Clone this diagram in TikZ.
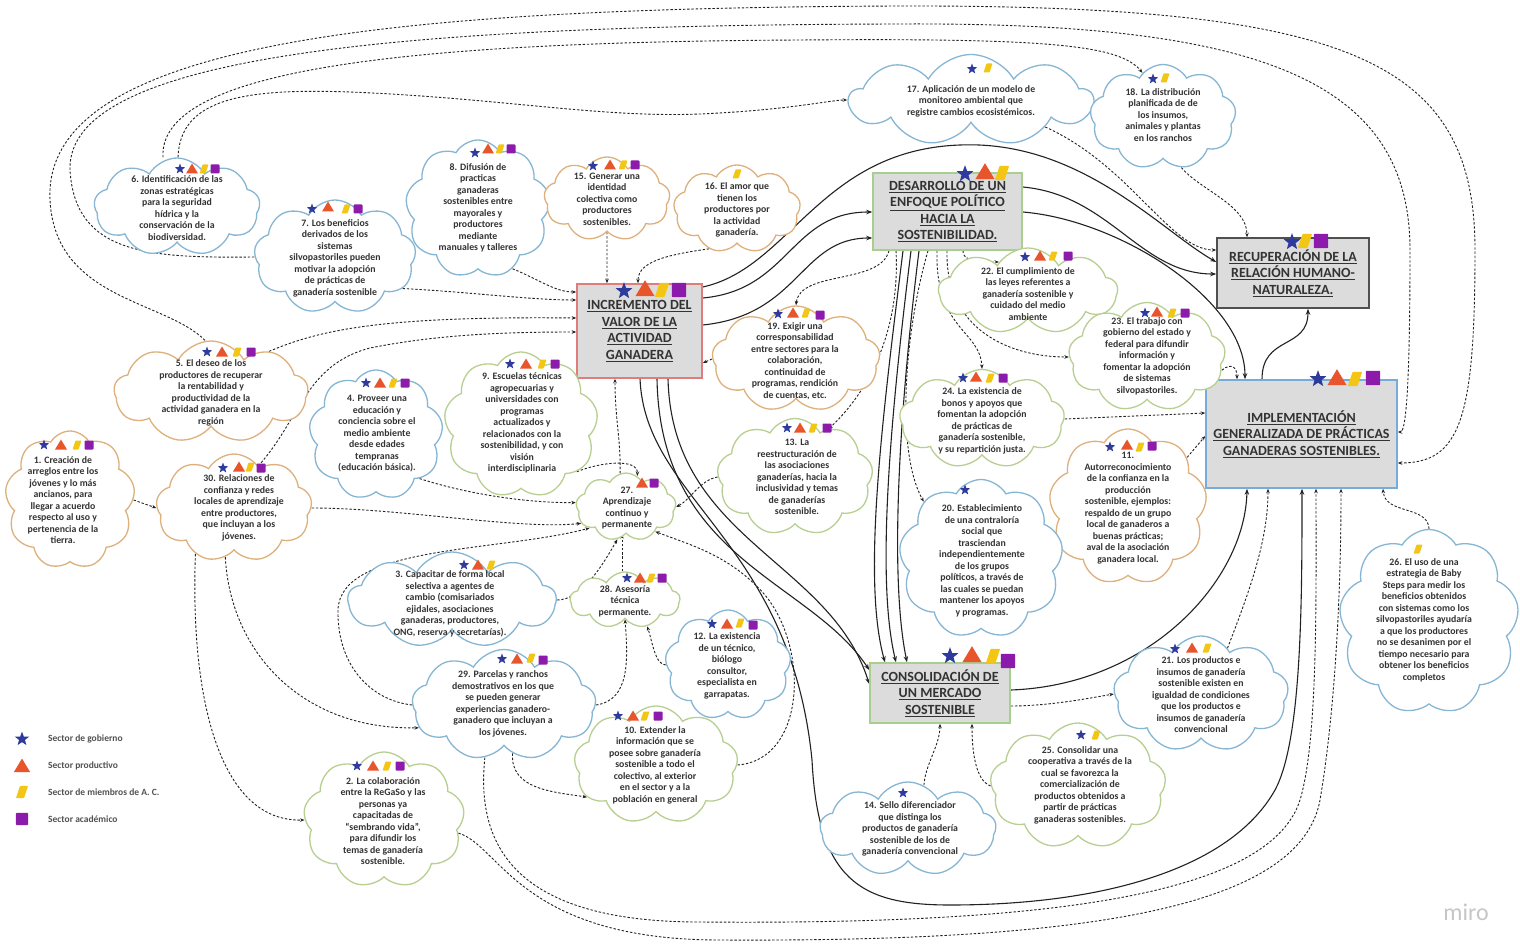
\documentclass[tikz,border=0pt]{standalone}
\usepackage{fontspec}
\setmainfont{Carlito}
\usetikzlibrary{shapes.symbols,arrows.meta,backgrounds}
\definecolor{govblue}{HTML}{2F3B9C}
\definecolor{prodred}{HTML}{E8542C}
\definecolor{acyellow}{HTML}{F3C614}
\definecolor{acadpurple}{HTML}{8C1AAA}
\definecolor{nubeazul}{HTML}{86B6D3}
\definecolor{nubeverde}{HTML}{B7CF90}
\definecolor{nubenaranja}{HTML}{DDB07C}
\definecolor{cajagris}{HTML}{DCDCDC}
\definecolor{textogris}{HTML}{333333}
\definecolor{rojocaja}{HTML}{E27C7C}
\definecolor{verdecaja}{HTML}{A9CF8E}
\definecolor{azulcaja}{HTML}{74ACDC}
\definecolor{oscurocaja}{HTML}{505050}
\definecolor{lineagris}{HTML}{222222}
\newcommand{\subr}[1]{\underline{#1}}
\tikzset{
	gov/.pic={\fill[govblue] (-90:5.5) \foreach \k in {1,...,9}{ -- ({-90+36*\k}:{mod(\k,2)==0 ? 5.5 : 2.3}) } -- cycle;},
	prod/.pic={\fill[prodred] (0,-5.5) -- (6,4.5) -- (-6,4.5) -- cycle;},
	ac/.pic={\fill[acyellow, rounded corners=0.8pt] (-1.5,-4.5) -- (4.5,-4.5) -- (1.5,4.5) -- (-4.5,4.5) -- cycle;},
	acad/.pic={\fill[acadpurple, rounded corners=0.8pt] (-4.5,-4.5) rectangle (4.5,4.5);}
}
\begin{document}
\begin{tikzpicture}[x=1pt, y=-1pt,
	nube/.style={cloud, cloud puffs=9, cloud puff arc=120, cloud ignores aspect, draw=#1, line width=1.3pt, fill=white, inner sep=0pt},
	txt/.style={align=center, font=\bfseries\fontsize{9.8}{11.5}\selectfont, text=textogris, inner sep=0pt},
	caja/.style={draw=#1, line width=1.5pt, fill=cajagris, inner sep=0pt, align=center, font=\bfseries\fontsize{14}{16.5}\selectfont, text=textogris},
	flecha/.style={draw=lineagris, line width=1.1pt, -{Stealth[length=6pt,width=4.5pt]}},
	punteada/.style={draw=lineagris, line width=0.9pt, dash pattern=on 2.4pt off 1.8pt, -{Stealth[length=4.5pt,width=3.5pt]}},
	leyenda/.style={anchor=west, font=\bfseries\fontsize{9.5}{11}\selectfont, text=textogris!85, inner sep=0pt}]
	\useasboundingbox (0,0) rectangle (1520,944);

	\node[caja=rojocaja, minimum width=125pt, minimum height=94pt] (incr) at (639.5,331) {\subr{INCREMENTO DEL}\\\subr{VALOR DE LA}\\\subr{ACTIVIDAD}\\\subr{GANADERA}};
	\node[caja=verdecaja, minimum width=149pt, minimum height=77pt] (des) at (947.5,211.5) {\subr{DESARROLLO DE UN}\\\subr{ENFOQUE POLÍTICO}\\\subr{HACIA LA}\\\subr{SOSTENIBILIDAD.}};
	\node[caja=oscurocaja, minimum width=152pt, minimum height=70pt] (rec) at (1293,273) {\subr{RECUPERACIÓN DE LA}\\\subr{RELACIÓN HUMANO-}\\\subr{NATURALEZA.}};
	\node[caja=azulcaja, minimum width=191pt, minimum height=108pt] (imp) at (1301.5,434) {\subr{IMPLEMENTACIÓN}\\\subr{GENERALIZADA DE PRÁCTICAS}\\\subr{GANADERAS SOSTENIBLES.}};
	\node[caja=verdecaja, minimum width=140pt, minimum height=60pt] (con) at (940,693) {\subr{CONSOLIDACIÓN DE}\\\subr{UN MERCADO}\\\subr{SOSTENIBLE}};

	\node[nube=nubenaranja, minimum width=130pt, minimum height=138pt] (c1) at (70,500) {};
	\node[txt] (t1) at (63,500) {1. Creación de\\arreglos entre los\\jóvenes y lo más\\ancianos, para\\llegar a acuerdo\\respecto al uso y\\pertenencia de la\\tierra.};
	\node[nube=nubeverde, minimum width=161pt, minimum height=136pt] (c2) at (384,820) {};
	\node[txt] (t2) at (383,821) {2. La colaboración\\entre la ReGaSo y las\\personas ya\\capacitadas de\\“sembrando vida”,\\para difundir los\\temas de ganadería\\sostenible.};
	\node[nube=nubeazul, minimum width=208pt, minimum height=96pt] (c3) at (452,600) {};
	\node[txt] (t3) at (450,604) {3. Capacitar de forma local\\selectiva a agentes de\\cambio (comisariados\\ejidales, asociaciones\\ganaderas, productores,\\ONG, reserva y secretarías).};
	\node[nube=nubeazul, minimum width=134pt, minimum height=130pt] (c4) at (376,435) {};
	\node[txt] (t4) at (377,434) {4. Proveer una\\educación y\\conciencia sobre el\\medio ambiente\\desde edades\\tempranas\\(educación básica).};
	\node[nube=nubenaranja, minimum width=194pt, minimum height=102pt] (c5) at (211,392) {};
	\node[txt] (t5) at (211,393) {5. El deseo de los\\productores de recuperar\\la rentabilidad y\\productividad de la\\actividad ganadera en la\\región};
	\node[nube=nubeazul, minimum width=166pt, minimum height=98pt] (c6) at (177,207) {};
	\node[txt] (t6) at (177,208) {6. Identificación de las\\zonas estratégicas\\para la seguridad\\hídrica y la\\conservación de la\\biodiversidad.};
	\node[nube=nubeazul, minimum width=162pt, minimum height=114pt] (c7) at (335,257) {};
	\node[txt] (t7) at (335,258) {7. Los beneficios\\derivados de los\\sistemas\\silvopastoriles pueden\\motivar la adopción\\de prácticas de\\ganadería sostenible};
	\node[nube=nubeazul, minimum width=145pt, minimum height=138pt] (c8) at (478,209) {};
	\node[txt] (t8) at (478,208) {8. Difusión de\\practicas\\ganaderas\\sostenibles entre\\mayorales y\\productores\\mediante\\manuales y talleres};
	\node[nube=nubeverde, minimum width=154pt, minimum height=146pt] (c9) at (521,425) {};
	\node[txt] (t9) at (522,423) {9. Escuelas técnicas\\agropecuarias y\\universidades con\\programas\\actualizados y\\relacionados con la\\sostenibilidad, y con\\visión\\interdisciplinaria};
	\node[nube=nubeverde, minimum width=164pt, minimum height=118pt] (c10) at (656,765) {};
	\node[txt] (t10) at (655,765) {10. Extender la\\información que se\\posee sobre ganadería\\sostenible a todo el\\colectivo, al exterior\\en el sector y a la\\población en general};
	\node[nube=nubenaranja, minimum width=158pt, minimum height=156pt] (c11) at (1128,507) {};
	\node[txt] (t11) at (1128,508) {11.\\Autorreconocimiento\\de la confianza en la\\producción\\sostenible, ejemplos:\\respaldo de un grupo\\local de ganaderos a\\buenas prácticas;\\aval de la asociación\\ganadera local.};
	\node[nube=nubeazul, minimum width=126pt, minimum height=110pt] (c12) at (728,665) {};
	\node[txt] (t12) at (727,666) {12. La existencia\\de un técnico,\\biólogo\\consultor,\\especialista en\\garrapatas.};
	\node[nube=nubeverde, minimum width=156pt, minimum height=117pt] (c13) at (795,477) {};
	\node[txt] (t13) at (797,477) {13. La\\reestructuración de\\las asociaciones\\ganaderías, hacia la\\inclusividad y temas\\de ganaderías\\sostenible.};
	\node[nube=nubeazul, minimum width=176pt, minimum height=94pt] (c14) at (908,829) {};
	\node[txt] (t14) at (910,829) {14. Sello diferenciador\\que distinga los\\productos de ganadería\\sostenible de los de\\ganadería convencional};
	\node[nube=nubenaranja, minimum width=126pt, minimum height=84pt] (c15) at (607,199) {};
	\node[txt] (t15) at (607,199) {15. Generar una\\identidad\\colectiva como\\productores\\sostenibles.};
	\node[nube=nubenaranja, minimum width=127pt, minimum height=88pt] (c16) at (737,209) {};
	\node[txt] (t16) at (737,210) {16. El amor que\\tienen los\\productores por\\la actividad\\ganadería.};
	\node[nube=nubeazul, minimum width=243pt, minimum height=91pt] (c17) at (971,100) {};
	\node[txt] (t17) at (971,101) {17. Aplicación de un modelo de\\monitoreo ambiental que\\registre cambios ecosistémicos.};
	\node[nube=nubeazul, minimum width=146pt, minimum height=105pt] (c18) at (1163,117) {};
	\node[txt] (t18) at (1163,115) {18. La distribución\\planificada de de\\los insumos,\\animales y plantas\\en los ranchos};
	\node[nube=nubenaranja, minimum width=168pt, minimum height=106pt] (c19) at (796,359) {};
	\node[txt] (t19) at (795,361) {19. Exigir una\\corresponsabilidad\\entre sectores para la\\colaboración,\\continuidad de\\programas, rendición\\de cuentas, etc.};
	\node[nube=nubeazul, minimum width=164pt, minimum height=159pt] (c20) at (981,559) {};
	\node[txt] (t20) at (982,561) {20. Establecimiento\\de una contraloría\\social que\\trasciendan\\independientemente\\de los grupos\\políticos, a través de\\las cuales se puedan\\mantener los apoyos\\y programas.};
	\node[nube=nubeazul, minimum width=175pt, minimum height=116pt] (c21) at (1201,694) {};
	\node[txt] (t21) at (1201,695) {21. Los productos e\\insumos de ganadería\\sostenible existen en\\igualdad de condiciones\\que los productos e\\insumos de ganadería\\convencional};
	\node[nube=nubeverde, minimum width=179pt, minimum height=86pt] (c22) at (1028,291) {};
	\node[txt] (t22) at (1028,294) {22. El cumplimiento de\\las leyes referentes a\\ganadería sostenible y\\cuidado del medio\\ambiente};
	\node[nube=nubeverde, minimum width=157pt, minimum height=109pt] (c23) at (1147,357) {};
	\node[txt] (t23) at (1147,356) {23. El trabajo con\\gobierno del estado y\\federal para difundir\\información y\\fomentar la adopción\\de sistemas\\silvopastoriles.};
	\node[nube=nubeverde, minimum width=165pt, minimum height=99pt] (c24) at (982,419) {};
	\node[txt] (t24) at (982,421) {24. La existencia de\\bonos y apoyos que\\fomentan la adopción\\de prácticas de\\ganadería sostenible,\\y su repartición justa.};
	\node[nube=nubeverde, minimum width=176pt, minimum height=126pt] (c25) at (1078,786) {};
	\node[txt] (t25) at (1080,785) {25. Consolidar una\\cooperativa a través de la\\cual se favorezca la\\comercialización de\\productos obtenidos a\\partir de prácticas\\ganaderas sostenibles.};
	\node[nube=nubeazul, minimum width=180pt, minimum height=185pt] (c26) at (1429,622) {};
	\node[txt] (t26) at (1424,620) {26. El uso de una\\estrategia de Baby\\Steps para medir los\\beneficios obtenidos\\con sistemas como los\\silvopastoriles ayudaría\\a que los productores\\no se desanimen por el\\tiempo necesario para\\obtener los beneficios\\completos};
	\node[nube=nubeverde, minimum width=100pt, minimum height=68pt] (c27) at (626,507) {};
	\node[txt] (t27) at (627,508) {27.\\Aprendizaje\\continuo y\\permanente};
	\node[nube=nubeverde, minimum width=110pt, minimum height=56pt] (c28) at (625,600) {};
	\node[txt] (t28) at (625,601) {28. Asesoría\\técnica\\permanente.};
	\node[nube=nubeazul, minimum width=184pt, minimum height=111pt] (c29) at (504,705) {};
	\node[txt] (t29) at (503,704) {29. Parcelas y ranchos\\demostrativos en los que\\se pueden generar\\experiencias ganadero-\\ganadero que incluyan a\\los jóvenes.};
	\node[nube=nubenaranja, minimum width=156pt, minimum height=108pt] (c30) at (234,508) {};
	\node[txt] (t30) at (239,508) {30. Relaciones de\\confianza y redes\\locales de aprendizaje\\entre productores,\\que incluyan a los\\jóvenes.};

	\pic at (44,445) {gov}; \pic at (61,445) {prod}; \pic at (77,445) {ac}; \pic at (89,445) {acad};
	\pic at (357,766) {gov}; \pic at (373,766) {prod}; \pic at (387,766) {ac}; \pic at (400,766) {acad};
	\pic at (464,565) {gov}; \pic at (478,565) {prod}; \pic at (491,565) {ac};
	\pic at (366,383) {gov}; \pic at (380,383) {prod}; \pic at (393,383) {ac}; \pic at (405,383) {acad};
	\pic at (207,352) {gov}; \pic at (222,352) {prod}; \pic at (237,352) {ac}; \pic at (251,352) {acad};
	\pic at (180,169) {gov}; \pic at (192,169) {prod}; \pic at (204,169) {ac}; \pic at (215,169) {acad};
	\pic at (312,209) {gov}; \pic at (328,207) {prod}; \pic at (346,209) {ac}; \pic at (358,209) {acad};
	\pic at (475,153) {gov}; \pic at (488,149) {prod}; \pic at (500,149) {ac}; \pic at (511,149) {acad};
	\pic at (510,364) {gov}; \pic at (526,364) {prod}; \pic at (542,364) {ac}; \pic at (555,364) {acad};
	\pic at (618,716) {gov}; \pic at (633,716) {prod}; \pic at (645,716) {ac}; \pic at (658,716) {acad};
	\pic at (1110,447) {gov}; \pic at (1127,445) {prod}; \pic at (1140,447) {ac}; \pic at (1152,446) {acad};
	\pic at (712,624) {gov}; \pic at (727,624) {prod}; \pic at (740,623) {ac}; \pic at (753,625) {acad};
	\pic at (787,428) {gov}; \pic at (800,428) {prod}; \pic at (813,428) {ac}; \pic at (827,428) {acad};
	\pic at (903,793) {gov};
	\pic at (593,166) {gov}; \pic at (610,165) {prod}; \pic at (623,165) {ac}; \pic at (635,165) {acad};
	\pic at (737,174) {ac};
	\pic at (972,69) {gov}; \pic at (988,68) {ac};
	\pic at (1153,79) {gov}; \pic at (1165,78) {ac};
	\pic at (778,314) {gov}; \pic at (793,313) {prod}; \pic at (806,313) {ac}; \pic at (820,315) {acad};
	\pic at (965,490) {gov};
	\pic at (1175,649) {gov}; \pic at (1192,648) {prod}; \pic at (1207,648) {ac};
	\pic at (1025,257) {gov}; \pic at (1040,256) {prod}; \pic at (1053,256) {ac}; \pic at (1068,256) {acad};
	\pic at (1145,313) {gov}; \pic at (1157,312) {prod}; \pic at (1172,313) {ac}; \pic at (1185,313) {acad};
	\pic at (963,378) {gov}; \pic at (976,377) {prod}; \pic at (990,378) {ac}; \pic at (1003,378) {acad};
	\pic at (1081,735) {gov}; \pic at (1096,735) {ac};
	\pic at (1418,549) {ac};
	\pic at (642,483) {prod}; \pic at (654,483) {acad};
	\pic at (627,578) {gov}; \pic at (640,578) {prod}; \pic at (651,578) {ac}; \pic at (662,578) {acad};
	\pic at (502,659) {gov}; \pic at (517,659) {prod}; \pic at (531,658) {ac}; \pic at (543,660) {acad};
	\pic at (223,468) {gov}; \pic at (239,467) {prod}; \pic at (250,467) {ac}; \pic at (261,468) {acad};

	\pic[scale=1.6] at (624,291) {gov}; \pic[scale=1.6] at (645,289) {prod}; \pic[scale=1.6] at (662,290) {ac}; \pic[scale=1.6] at (679,290) {acad};
	\pic[scale=1.6] at (965,174) {gov}; \pic[scale=1.6] at (985,172) {prod}; \pic[scale=1.6] at (1002,173) {ac};
	\pic[scale=1.6] at (1292,242) {gov}; \pic[scale=1.6] at (1305,241) {ac}; \pic[scale=1.6] at (1321,241) {acad};
	\pic[scale=1.6] at (1318,379) {gov}; \pic[scale=1.6] at (1337,378) {prod}; \pic[scale=1.6] at (1355,379) {ac}; \pic[scale=1.6] at (1373,378) {acad};
	\pic[scale=1.6] at (950,656) {gov}; \pic[scale=1.6] at (972,655) {prod}; \pic[scale=1.6] at (993,656) {ac}; \pic[scale=1.6] at (1008,661) {acad};

	\pic[scale=1.35] at (22,739) {gov};
	\pic[scale=1.35] at (22,766) {prod};
	\pic[scale=1.35] at (22,792) {ac};
	\pic[scale=1.35] at (22,819) {acad};
	\node[leyenda] (lg1) at (48,739) {Sector de gobierno};
	\node[leyenda] (lg2) at (48,766) {Sector productivo};
	\node[leyenda] (lg3) at (48,792) {Sector de miembros de A. C.};
	\node[leyenda] (lg4) at (48,819) {Sector académico};
	\node[font=\fontsize{24}{24}\selectfont, text=gray!45] (marca) at (1466,912) {miro};

	\begin{pgfonlayer}{background}
	\fill[white] (0,0) rectangle (1520,944);

	\draw[flecha] (incr.east |- 0,287) .. controls (790,268) and (820,150) .. (960,145) .. controls (1080,140) and (1160,230) .. (rec.west |- 0,262);
	\draw[flecha] (incr.east |- 0,298) .. controls (790,290) and (790,212) .. (des.west |- 0,212);
	\draw[flecha] (incr.east |- 0,325) .. controls (800,315) and (800,238) .. (des.west |- 0,238);
	\draw[flecha] (des.east |- 0,187) .. controls (1110,195) and (1140,274) .. (rec.west |- 0,274);
	\draw[flecha] (des.east |- 0,212) .. controls (1120,220) and (1245,300) .. (imp.north -| 1245,0);
	\draw[flecha] (imp.north -| 1262,0) .. controls (1262,335) and (1308,350) .. (rec.south -| 1308,0);
	\draw[flecha] (des.south -| 903,0) .. controls (882,420) and (862,580) .. (con.north -| 885,0);
	\draw[flecha] (des.south -| 911,0) .. controls (890,420) and (876,580) .. (con.north -| 896,0);
	\draw[flecha] (des.south -| 919,0) .. controls (898,420) and (890,580) .. (con.north -| 907,0);
	\draw[flecha] (incr.south -| 657,0) .. controls (660,560) and (810,580) .. (con.west |- 0,670);
	\draw[flecha] (incr.south -| 668,0) .. controls (672,540) and (830,560) .. (con.west |- 0,684);
	\draw[flecha] (incr.south -| 640,0) .. controls (645,500) and (790,540) .. (812,760) .. controls (818,880) and (860,905) .. (950,905) .. controls (1100,905) and (1230,870) .. (1275,790) .. controls (1302,740) and (1302,600) .. (imp.south -| 1302,0);
	\draw[flecha] (con.east |- 0,690) .. controls (1150,685) and (1245,580) .. (imp.south -| 1247,0);

	\draw[punteada] (c5.north -| 205,0) .. controls (165,300) and (55,300) .. (50,200) .. controls (42,40) and (400,8) .. (900,6) .. controls (1350,5) and (1475,60) .. (1475,250) .. controls (1475,420) and (1460,463) .. (imp.east |- 0,463);
	\draw[punteada] (c7.west) .. controls (150,258) and (75,255) .. (70,170) .. controls (66,55) and (400,25) .. (900,24) .. controls (1260,22) and (1410,80) .. (1410,250) .. controls (1410,400) and (1405,432) .. (imp.east |- 0,432);
	\draw[punteada] (c6.north -| 163,0) .. controls (158,70) and (400,42) .. (800,40) .. controls (1050,38) and (1120,45) .. (c18.115);
	\draw[punteada] (c6.north -| 178,0) .. controls (180,100) and (240,88) .. (350,92) .. controls (500,98) and (600,118) .. (700,114) .. controls (790,110) and (830,100) .. (c17.west);
	\draw[punteada] (c5.35) .. controls (320,330) and (380,316) .. (incr.west |- 0,318);
	\draw[punteada] (c7.-25) .. controls (470,292) and (530,300) .. (incr.west |- 0,300);
	\draw[punteada] (c8.-60) .. controls (540,280) and (555,292) .. (incr.west |- 0,292);
	\draw[punteada] (c30.60) .. controls (300,420) and (305,365) .. (370,348) .. controls (440,334) and (510,332) .. (incr.west |- 0,332);
	\draw[punteada] (c15.south) -- (incr.north -| 607,0);
	\draw[punteada] (c16.-125) .. controls (665,255) and (638,262) .. (incr.north -| 638,0);
	\draw[punteada] (c19.west) -- (incr.east |- 0,363);
	\draw[punteada] (c27.100) .. controls (621,440) and (615,420) .. (incr.south -| 615,0);
	\draw[punteada] (des.south -| 889,0) .. controls (880,285) and (800,270) .. (c19.north);
	\draw[punteada] (des.south -| 896,0) .. controls (900,330) and (870,390) .. (c13.55);
	\draw[punteada] (des.south -| 928,0) .. controls (905,330) and (895,450) .. (c20.135);
	\draw[punteada] (des.south -| 937,0) .. controls (935,330) and (980,330) .. (c24.north);
	\draw[punteada] (des.south -| 947,0) .. controls (945,330) and (1010,357) .. (c23.west);
	\draw[punteada] (des.south -| 963,0) .. controls (963,258) and (968,262) .. (c22.135);
	\draw[punteada] (c24.east) -- (imp.west |- 0,413);
	\draw[punteada] (c23.-10) .. controls (1232,362) and (1237,368) .. (imp.north -| 1237,0);
	\draw[punteada] (c11.40) -- (imp.west |- 0,436);
	\draw[punteada] (c26.north) .. controls (1428,505) and (1385,515) .. (imp.south -| 1383,0);
	\draw[punteada] (c21.60) .. controls (1250,590) and (1268,540) .. (imp.south -| 1268,0);
	\draw[punteada] (c17.-20) .. controls (1130,165) and (1170,250) .. (rec.west |- 0,250);
	\draw[punteada] (c18.-70) .. controls (1200,190) and (1247,205) .. (rec.north -| 1247,0);
	\draw[punteada] (c14.70) .. controls (925,765) and (940,745) .. (con.south -| 940,0);
	\draw[punteada] (c25.west) .. controls (975,780) and (972,750) .. (con.south -| 972,0);
	\draw[punteada] (con.east |- 0,706) .. controls (1050,706) and (1090,698) .. (c21.west);
	\draw[punteada] (c29.-110) .. controls (475,850) and (520,922) .. (700,922) .. controls (1050,925) and (1270,895) .. (1300,800) .. controls (1318,740) and (1316,600) .. (imp.south -| 1316,0);
	\draw[punteada] (c2.-10) .. controls (500,845) and (520,940) .. (720,940) .. controls (1080,942) and (1300,910) .. (1320,800) .. controls (1332,730) and (1341,620) .. (imp.south -| 1341,0);
	\draw[punteada] (c9.-40) .. controls (600,462) and (638,458) .. (c27.70);
	\draw[punteada] (c4.-45) .. controls (470,495) and (530,503) .. (c27.175);
	\draw[punteada] (c30.east) .. controls (400,508) and (520,530) .. (c27.-160);
	\draw[punteada] (c3.east) .. controls (580,600) and (600,570) .. (c27.-105);
	\draw[punteada] (c28.north -| 622,0) -- (c27.south -| 622,0);
	\draw[punteada] (c29.east) .. controls (630,700) and (628,660) .. (c28.south);
	\draw[punteada] (c12.west) .. controls (655,665) and (652,640) .. (c28.-50);
	\draw[punteada] (c29.-80) .. controls (510,790) and (555,792) .. (c10.-155);
	\draw[punteada] (c10.east) .. controls (805,760) and (810,650) .. (765,595) .. controls (730,555) and (690,545) .. (c27.-40);
	\draw[punteada] (c13.west) .. controls (700,480) and (690,500) .. (c27.east);
	\draw[punteada] (c1.east) -- (c30.west);
	\draw[punteada] (c30.-130) .. controls (190,700) and (220,822) .. (c2.west);
	\draw[punteada] (c30.-100) .. controls (230,650) and (300,730) .. (c29.-165);
	\draw[punteada] (c29.west) .. controls (370,700) and (337,665) .. (338,610) .. controls (340,545) and (500,552) .. (c27.-150);
	\end{pgfonlayer}
\end{tikzpicture}
\end{document}
